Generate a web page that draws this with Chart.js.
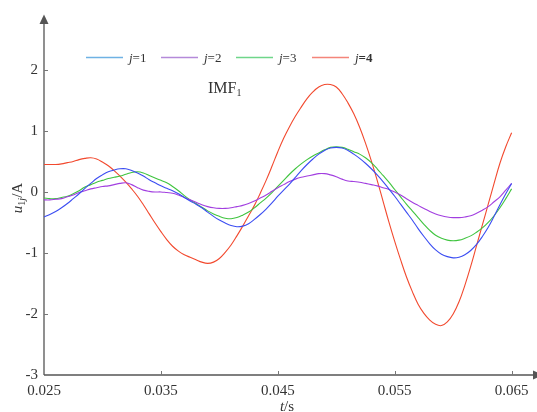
<!DOCTYPE html>
<html>
<head>
<meta charset="utf-8">
<script src="https://cdn.jsdelivr.net/npm/chart.js@4.4.1/dist/chart.umd.min.js"></script>
<style>
  html, body { margin: 0; padding: 0; background: #ffffff; }
  #wrap { width: 537px; height: 412px; position: relative; }
</style>
</head>
<body>
<div id="wrap"><canvas id="imf" width="537" height="412"></canvas></div>
<script>
// Sampling instants (s)
const times = [
  0.0250, 0.0255, 0.0260, 0.0265, 0.0270, 0.0275, 0.0280, 0.0285, 0.0290, 0.0295,
  0.0300, 0.0305, 0.0310, 0.0315, 0.0320, 0.0325, 0.0330, 0.0335, 0.0340, 0.0345,
  0.0350, 0.0355, 0.0360, 0.0365, 0.0370, 0.0375, 0.0380, 0.0385, 0.0390, 0.0395,
  0.0400, 0.0405, 0.0410, 0.0415, 0.0420, 0.0425, 0.0430, 0.0435, 0.0440, 0.0445,
  0.0450, 0.0455, 0.0460, 0.0465, 0.0470, 0.0475, 0.0480, 0.0485, 0.0490, 0.0495,
  0.0500, 0.0505, 0.0510, 0.0515, 0.0520, 0.0525, 0.0530, 0.0535, 0.0540, 0.0545,
  0.0550, 0.0555, 0.0560, 0.0565, 0.0570, 0.0575, 0.0580, 0.0585, 0.0590, 0.0595,
  0.0600, 0.0605, 0.0610, 0.0615, 0.0620, 0.0625, 0.0630, 0.0635, 0.0640, 0.0645,
  0.0650
];

// IMF1 components u1j (A)
const imfJ1 = [
  -0.41, -0.37, -0.32, -0.26, -0.19, -0.11, -0.03, 0.06, 0.14, 0.22,
  0.28, 0.33, 0.36, 0.38, 0.38, 0.35, 0.31, 0.26, 0.20, 0.15,
  0.10, 0.06, 0.02, -0.03, -0.09, -0.15, -0.20, -0.26, -0.33, -0.40,
  -0.46, -0.51, -0.55, -0.57, -0.56, -0.52, -0.45, -0.37, -0.28, -0.18,
  -0.07, 0.03, 0.13, 0.24, 0.35, 0.45, 0.54, 0.62, 0.68, 0.72,
  0.73, 0.72, 0.68, 0.62, 0.55, 0.47, 0.38, 0.28, 0.17, 0.05,
  -0.07, -0.20, -0.33, -0.46, -0.60, -0.73, -0.85, -0.95, -1.02, -1.06,
  -1.08, -1.07, -1.03, -0.96, -0.86, -0.73, -0.58, -0.40, -0.21, -0.03,
  0.14
];
const imfJ2 = [
  -0.13, -0.13, -0.12, -0.11, -0.08, -0.05, -0.01, 0.02, 0.05, 0.07,
  0.09, 0.10, 0.12, 0.14, 0.15, 0.12, 0.07, 0.03, 0.01, 0.00,
  0.00, -0.01, -0.02, -0.05, -0.09, -0.13, -0.17, -0.21, -0.24, -0.26,
  -0.27, -0.27, -0.26, -0.24, -0.22, -0.19, -0.15, -0.10, -0.05, 0.01,
  0.07, 0.12, 0.17, 0.21, 0.24, 0.26, 0.28, 0.30, 0.30, 0.28,
  0.25, 0.21, 0.18, 0.17, 0.16, 0.14, 0.12, 0.10, 0.07, 0.04,
  0.00, -0.05, -0.11, -0.17, -0.22, -0.27, -0.32, -0.36, -0.39, -0.41,
  -0.42, -0.42, -0.41, -0.39, -0.35, -0.30, -0.24, -0.16, -0.08, 0.03,
  0.14
];
const imfJ3 = [
  -0.10, -0.11, -0.11, -0.09, -0.07, -0.03, 0.02, 0.08, 0.12, 0.16,
  0.19, 0.22, 0.24, 0.26, 0.29, 0.32, 0.33, 0.31, 0.27, 0.23,
  0.19, 0.15, 0.09, 0.02, -0.06, -0.13, -0.19, -0.25, -0.31, -0.36,
  -0.40, -0.43, -0.44, -0.42, -0.38, -0.33, -0.26, -0.18, -0.10, -0.01,
  0.09, 0.19, 0.29, 0.38, 0.46, 0.53, 0.59, 0.64, 0.69, 0.73,
  0.74, 0.73, 0.70, 0.66, 0.62, 0.56, 0.48, 0.38, 0.27, 0.16,
  0.04, -0.08, -0.20, -0.31, -0.42, -0.53, -0.63, -0.71, -0.76, -0.79,
  -0.80, -0.79, -0.76, -0.72, -0.66, -0.59, -0.50, -0.39, -0.26, -0.11,
  0.05
];
const imfJ4 = [
  0.45, 0.45, 0.45, 0.46, 0.48, 0.50, 0.53, 0.55, 0.56, 0.54,
  0.49, 0.43, 0.35, 0.26, 0.16, 0.05, -0.07, -0.21, -0.36, -0.51,
  -0.65, -0.78, -0.89, -0.97, -1.03, -1.07, -1.11, -1.15, -1.17, -1.15,
  -1.09, -0.99, -0.87, -0.72, -0.56, -0.39, -0.22, -0.02, 0.19, 0.42,
  0.66, 0.88, 1.07, 1.24, 1.39, 1.53, 1.64, 1.72, 1.76, 1.76,
  1.72, 1.61, 1.46, 1.28, 1.06, 0.80, 0.51, 0.19, -0.15, -0.49,
  -0.81, -1.11, -1.39, -1.63, -1.84, -1.99, -2.10, -2.17, -2.19, -2.13,
  -2.00, -1.80, -1.53, -1.22, -0.88, -0.54, -0.20, 0.14, 0.47, 0.74,
  0.97
];

const seriesLabels = ['j=1', 'j=2', 'j=3', 'j=4'];
const seriesValues = [imfJ1, imfJ2, imfJ3, imfJ4];
const seriesColors = ['#3b4df2', '#a23fe0', '#3fc43f', '#f2492e'];
const legendColors = ['#6fb2e4', '#b58ad9', '#6fd68a', '#f4857a'];

const xTickValues = [0.025, 0.035, 0.045, 0.055, 0.065];
const yTickValues = [-3, -2, -1, 0, 1, 2];

const SERIF = '"Liberation Serif", "DejaVu Serif", serif';
const AXIS_COLOR = '#555555';
const TEXT_COLOR = '#333333';

// Draws a run of text pieces (mixed italic / subscript) starting at x
function drawPieces(ctx, pieces, x, y, align) {
  let total = 0;
  pieces.forEach(p => {
    ctx.font = (p.italic ? 'italic ' : '') + (p.bold ? 'bold ' : '') + p.size + 'px ' + SERIF;
    p.w = ctx.measureText(p.t).width;
    total += p.w;
  });
  let cx = align === 'center' ? x - total / 2 : x;
  pieces.forEach(p => {
    ctx.font = (p.italic ? 'italic ' : '') + (p.bold ? 'bold ' : '') + p.size + 'px ' + SERIF;
    ctx.fillText(p.t, cx, y + (p.dy || 0));
    cx += p.w;
  });
}

const decorations = {
  id: 'decorations',
  beforeDatasetsDraw(chart) {
    const { ctx, chartArea, scales } = chart;
    const xs = scales.x, ys = scales.y;
    const x0 = chartArea.left, y0 = chartArea.bottom;
    ctx.save();
    ctx.strokeStyle = AXIS_COLOR;
    ctx.fillStyle = AXIS_COLOR;
    ctx.lineWidth = 1.3;
    // axis lines
    ctx.beginPath();
    ctx.moveTo(x0, y0);
    ctx.lineTo(x0, chartArea.top + 8);
    ctx.moveTo(x0, y0);
    ctx.lineTo(chartArea.right - 2, y0);
    ctx.stroke();
    // arrow heads
    ctx.beginPath();
    ctx.moveTo(x0, chartArea.top - 0.5);
    ctx.lineTo(x0 - 4.5, chartArea.top + 9);
    ctx.lineTo(x0 + 4.5, chartArea.top + 9);
    ctx.closePath();
    ctx.fill();
    ctx.beginPath();
    ctx.moveTo(chartArea.right + 8, y0);
    ctx.lineTo(chartArea.right - 2, y0 - 4.5);
    ctx.lineTo(chartArea.right - 2, y0 + 4.5);
    ctx.closePath();
    ctx.fill();
    // inward tick marks
    ctx.lineWidth = 1;
    ctx.strokeStyle = '#777777';
    ctx.beginPath();
    xTickValues.forEach(v => {
      const px = Math.round(xs.getPixelForValue(v)) + 0.5;
      if (px > x0 + 2) { ctx.moveTo(px, y0); ctx.lineTo(px, y0 - 4); }
    });
    yTickValues.forEach(v => {
      const py = Math.round(ys.getPixelForValue(v)) + 0.5;
      if (py < y0 - 2) { ctx.moveTo(x0, py); ctx.lineTo(x0 + 4, py); }
    });
    ctx.stroke();
    ctx.restore();
  },
  afterDraw(chart) {
    const { ctx } = chart;
    ctx.save();
    ctx.fillStyle = TEXT_COLOR;
    ctx.textBaseline = 'alphabetic';
    ctx.textAlign = 'left';

    // legend
    const legendY = 57.5;
    const legendX = [86, 161, 236, 312];
    chart.data.datasets.forEach((ds, i) => {
      const lx = legendX[i];
      ctx.strokeStyle = legendColors[i];
      ctx.lineWidth = 1.4;
      ctx.beginPath();
      ctx.moveTo(lx, legendY);
      ctx.lineTo(lx + 37, legendY);
      ctx.stroke();
      const parts = ds.label.split('=');
      ctx.fillStyle = TEXT_COLOR;
      drawPieces(ctx, [
        { t: parts[0], italic: true, size: 13 },
        { t: '=' + parts[1], size: 13, bold: i === 3 }
      ], lx + 43, legendY + 4.5, 'left');
    });

    // panel title
    drawPieces(ctx, [
      { t: 'IMF', size: 16 },
      { t: '1', size: 10, dy: 2.5 }
    ], 208, 93, 'left');

    // x-axis title
    drawPieces(ctx, [
      { t: 't', italic: true, size: 15 },
      { t: '/s', size: 15 }
    ], 287, 411, 'center');

    // y-axis title
    ctx.translate(22, 198);
    ctx.rotate(-Math.PI / 2);
    drawPieces(ctx, [
      { t: 'u', italic: true, size: 15 },
      { t: '1', size: 10, dy: 3 },
      { t: 'j', italic: true, size: 10, dy: 3 },
      { t: '/A', size: 15 }
    ], 0, 0, 'center');
    ctx.restore();
  }
};

const datasets = seriesLabels.map((label, i) => ({
  label: label,
  data: times.map((t, k) => ({ x: t, y: seriesValues[i][k] })),
  borderColor: seriesColors[i],
  backgroundColor: seriesColors[i],
  borderWidth: 1.1,
  pointRadius: 0,
  tension: 0.4,
  fill: false
}));

new Chart(document.getElementById('imf'), {
  type: 'line',
  data: { datasets: datasets },
  options: {
    responsive: false,
    animation: false,
    devicePixelRatio: 1,
    layout: { padding: { top: 13, right: 2, left: 0, bottom: 0 } },
    plugins: {
      legend: { display: false },
      tooltip: { enabled: false }
    },
    scales: {
      x: {
        type: 'linear',
        min: 0.025,
        max: 0.067,
        afterBuildTicks: s => { s.ticks = xTickValues.map(v => ({ value: v })); },
        afterFit: s => { s.height = 37; },
        grid: { display: false, drawTicks: false },
        border: { display: false },
        ticks: {
          color: TEXT_COLOR,
          padding: 7,
          maxRotation: 0,
          autoSkip: false,
          font: { family: SERIF, size: 15 },
          callback: v => v.toFixed(3)
        }
      },
      y: {
        type: 'linear',
        min: -3,
        max: 2.9,
        afterBuildTicks: s => { s.ticks = yTickValues.map(v => ({ value: v })); },
        afterFit: s => { s.width = 44; },
        grid: { display: false, drawTicks: false },
        border: { display: false },
        ticks: {
          color: TEXT_COLOR,
          padding: 6,
          autoSkip: false,
          font: { family: SERIF, size: 15 },
          callback: v => String(v)
        }
      }
    }
  },
  plugins: [decorations]
});
</script>
</body>
</html>
